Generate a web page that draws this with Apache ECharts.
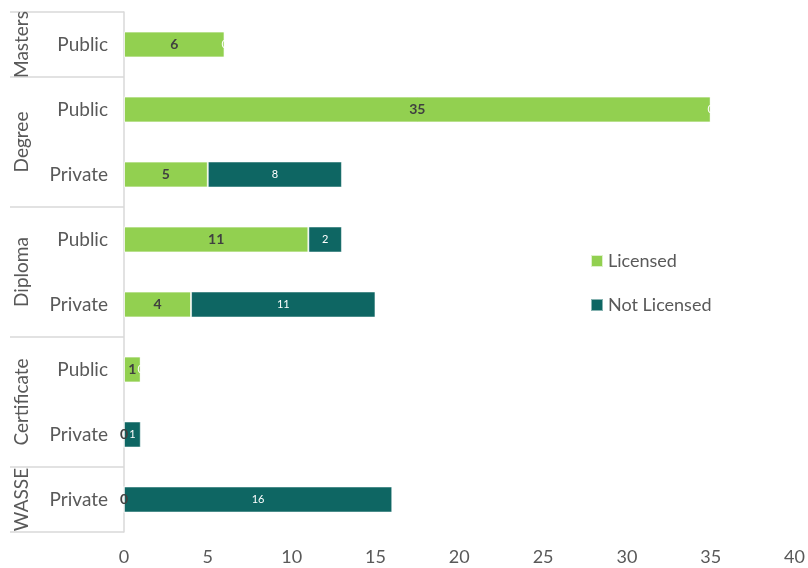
<!DOCTYPE html>
<html>
<head>
<meta charset="utf-8">
<script src="https://cdn.jsdelivr.net/npm/echarts@6/dist/echarts.min.js"></script>
<style>
  html, body { margin: 0; padding: 0; background: #fff; }
  #chart { width: 808px; height: 568px; }
</style>
</head>
<body>
<div id="chart"></div>
<script>
// Programme level for each row (top to bottom) and its institution type
const groups = ['Masters', 'Degree', 'Degree', 'Diploma', 'Diploma', 'Certificate', 'Certificate', 'WASSE'];
const categories = ['Public', 'Public', 'Private', 'Public', 'Private', 'Public', 'Private', 'Private'];
const licensed = [6, 35, 5, 11, 4, 1, 0, 0];
const notLicensed = [0, 0, 8, 2, 11, 0, 1, 16];
const xTicks = [0, 5, 10, 15, 20, 25, 30, 35, 40];

const FONT = 'Lato, "Open Sans", sans-serif';
const GREY = '#595959';

const chart = echarts.init(document.getElementById('chart'));

chart.setOption({
  animation: false,
  textStyle: { fontFamily: FONT },
  grid: { left: 124, right: 12, top: 12, bottom: 36, containLabel: false },
  legend: {
    orient: 'vertical',
    left: 585,
    top: 247,
    itemWidth: 12,
    itemHeight: 12,
    itemGap: 26,
    icon: 'rect',
    textStyle: { fontSize: 18, color: GREY, fontFamily: FONT },
    data: ['Licensed', 'Not Licensed']
  },
  xAxis: {
    type: 'value',
    min: xTicks[0],
    max: xTicks[xTicks.length - 1],
    interval: 5,
    axisLine: { show: false },
    axisTick: { show: false },
    splitLine: { show: false },
    axisLabel: { fontSize: 18, color: GREY, margin: 16, fontFamily: FONT }
  },
  yAxis: {
    type: 'category',
    inverse: true,
    data: categories,
    axisLine: { show: true, lineStyle: { color: '#d9d9d9', width: 1.5 } },
    axisTick: { show: false },
    axisLabel: { fontSize: 19, color: GREY, margin: 16, fontFamily: FONT }
  },
  series: [
    {
      name: 'Licensed',
      type: 'bar',
      stack: 'total',
      barWidth: 26,
      data: licensed,
      itemStyle: { color: '#92D050', borderColor: 'rgba(255,255,255,0.7)', borderWidth: 1 },
      label: {
        show: true,
        position: 'inside',
        fontSize: 14,
        fontWeight: 'bold',
        color: '#404040',
        fontFamily: FONT
      }
    },
    {
      name: 'Not Licensed',
      type: 'bar',
      stack: 'total',
      barWidth: 26,
      data: notLicensed,
      itemStyle: { color: '#0E6663', borderColor: 'rgba(255,255,255,0.5)', borderWidth: 1 },
      label: {
        show: true,
        position: 'inside',
        fontSize: 11,
        color: '#ffffff',
        fontFamily: FONT
      }
    }
  ]
});

// Group labels and separator lines for the two-level category axis
function drawGroups() {
  const y0 = chart.convertToPixel({ yAxisIndex: 0 }, 0);
  const y1 = chart.convertToPixel({ yAxisIndex: 0 }, 1);
  const band = y1 - y0;
  const axisX = chart.convertToPixel({ xAxisIndex: 0 }, 0);
  const elements = [];
  let start = 0;
  const addLine = (y) => {
    elements.push({
      type: 'line',
      shape: { x1: 10, y1: y, x2: axisX, y2: y },
      style: { stroke: '#d9d9d9', lineWidth: 1.5 }
    });
  };
  for (let i = 1; i <= groups.length; i++) {
    if (i === groups.length || groups[i] !== groups[start]) {
      const top = y0 + (start - 0.5) * band;
      const bottom = y0 + (i - 0.5) * band;
      if (start === 0) addLine(top);
      addLine(bottom);
      elements.push({
        type: 'text',
        x: 22,
        y: (top + bottom) / 2,
        rotation: Math.PI / 2,
        style: {
          text: groups[start],
          fontSize: 19,
          fill: GREY,
          fontFamily: FONT,
          align: 'center',
          verticalAlign: 'middle'
        }
      });
      start = i;
    }
  }
  chart.setOption({ graphic: elements });
}
drawGroups();
</script>
</body>
</html>
